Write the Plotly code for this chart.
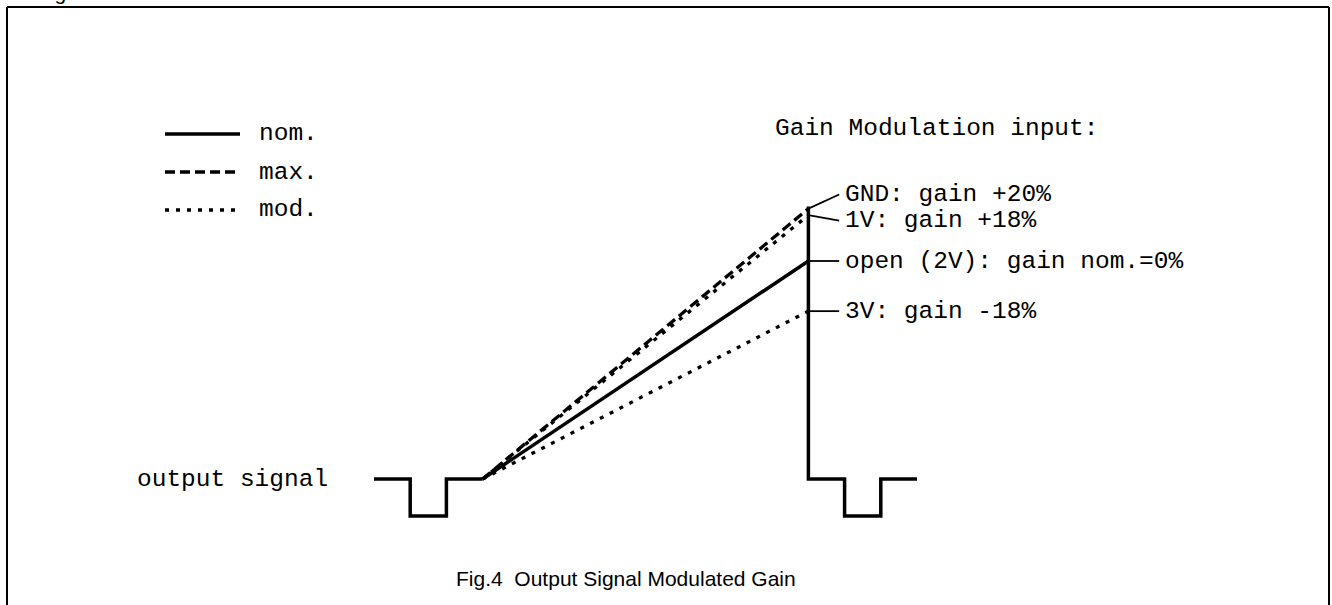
import plotly.graph_objects as go

W, H = 1332, 605

# ---- data (time in pulse-width units, amplitude in % of nominal ramp end) ----
left_t = [0, 1, 1, 2, 2, 3]
left_a = [0, 0, -17, -17, 0, 0]
right_t = [12, 12, 13, 13, 14, 14, 15]
right_a = [125, 0, 0, -17, -17, 0, 0]
ramp_start_t = 3
ramp_end_t = 12
level_labels = ["GND: gain +20%", "1V: gain +18%", "open (2V): gain nom.=0%", "3V: gain -18%"]
level_amp = [124, 121, 100, 77]
level_label_amp = [130.5, 118.5, 100, 77]
level_style = ["max", "mod", "nom", "mod"]
legend_names = ["nom.", "max.", "mod."]

# pixel mapping helpers for axis range only
px_per_t = 36.2
t0_px = 374
px_per_a = 2.18
a0_px = 479

xr = [(0 - t0_px) / px_per_t, (W - t0_px) / px_per_t]
yr = [(a0_px - H) / px_per_a, (a0_px - 0) / px_per_a]

DASH = {"nom": "solid", "max": "10px,5px", "mod": "4px,7px"}
LW = 3.5
MONO = "Liberation Mono, Courier New, monospace"
SANS = "Liberation Sans, Arial, sans-serif"

fig = go.Figure()

fig.add_trace(go.Scatter(x=left_t, y=left_a, mode="lines",
                         line=dict(color="black", width=LW), hoverinfo="skip"))
for amp, sty in zip(level_amp, level_style):
    fig.add_trace(go.Scatter(x=[ramp_start_t, ramp_end_t], y=[0, amp], mode="lines",
                             line=dict(color="black", width=LW if sty == "nom" else 3.3,
                                       dash=DASH[sty]), hoverinfo="skip"))
fig.add_trace(go.Scatter(x=right_t, y=right_a, mode="lines",
                         line=dict(color="black", width=LW), hoverinfo="skip"))

# leader lines + labels
lead_end_t = ramp_end_t + 0.85
for lab, amp, lamp in zip(level_labels, level_amp, level_label_amp):
    fig.add_trace(go.Scatter(x=[ramp_end_t, lead_end_t], y=[amp, lamp], mode="lines",
                             line=dict(color="black", width=1.8), hoverinfo="skip"))
    fig.add_annotation(x=lead_end_t, y=lamp, text=lab, showarrow=False,
                       xanchor="left", yanchor="middle", xshift=4,
                       font=dict(family=MONO, size=24.5, color="black"))

fig.add_annotation(x=lead_end_t, y=(a0_px - 128) / px_per_a, text="Gain Modulation input:",
                   showarrow=False, xanchor="left", yanchor="middle", xshift=-66,
                   font=dict(family=MONO, size=24.5, color="black"))
fig.add_annotation(x=0, y=0, text="output signal", showarrow=False,
                   xanchor="right", yanchor="middle", xshift=-44,
                   font=dict(family=MONO, size=24.5, color="black"))

# legend drawn manually
shapes = []
leg_y = [134, 172, 210]
for name, py, sty in zip(legend_names, leg_y, ["nom", "max", "mod"]):
    yp = 1 - py / H
    shapes.append(dict(type="line", xref="paper", yref="paper",
                       x0=165 / W, x1=240 / W, y0=yp, y1=yp,
                       line=dict(color="black", width=LW, dash=DASH[sty])))
    fig.add_annotation(xref="paper", yref="paper", x=257 / W, y=yp, text=name,
                       showarrow=False, xanchor="left", yanchor="middle",
                       font=dict(family=MONO, size=24.5, color="black"))

# frame
for x0, y0, x1, y1 in [(7, 7, 1329, 7), (7, 7, 7, 620), (1329, 7, 1329, 620)]:
    shapes.append(dict(type="line", xref="paper", yref="paper",
                       x0=x0 / W, x1=x1 / W, y0=1 - y0 / H, y1=1 - y1 / H,
                       line=dict(color="black", width=2)))

# caption
fig.add_annotation(xref="paper", yref="paper", x=626 / W, y=1 - 578 / H,
                   text="Fig.4  Output Signal Modulated Gain", showarrow=False,
                   xanchor="center", yanchor="middle",
                   font=dict(family=SANS, size=21, color="black"))
# cut-off heading at very top
fig.add_annotation(xref="paper", yref="paper", x=36 / W, y=1 - 5 / H,
                   text="Fig", showarrow=False, xanchor="left", yanchor="bottom",
                   borderpad=0, font=dict(family=SANS, size=21, color="black"))

fig.update_layout(
    width=W, height=H, margin=dict(l=0, r=0, t=0, b=0),
    paper_bgcolor="white", plot_bgcolor="white", showlegend=False,
    shapes=shapes,
    xaxis=dict(range=xr, visible=False, fixedrange=True),
    yaxis=dict(range=yr, visible=False, fixedrange=True),
)
fig.write_html("out.html", config={"displayModeBar": False},
               post_script="document.body.style.margin='0';document.body.style.overflow='hidden';")
